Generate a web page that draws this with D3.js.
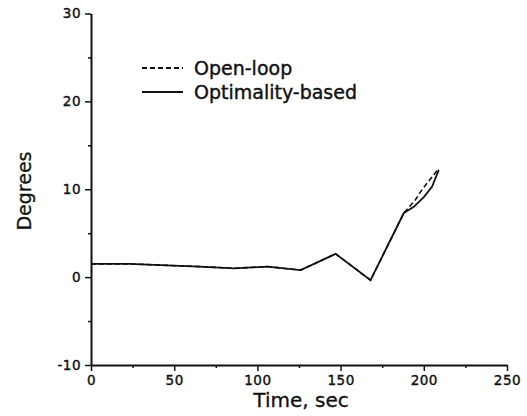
<html>
<meta charset="utf-8">
<script src="https://d3js.org/d3.v7.min.js"></script>
<style>
body{margin:0;background:#fff;}
text{font-family:"DejaVu Sans",sans-serif;fill:#111;}
</style>
<div class="chart"></div>
<script>
// time in sec, angle in degrees
const optTime = [0, 23, 65, 86, 106, 126, 147, 168, 188, 194, 200, 205, 209];
const optDeg  = [1.5, 1.5, 1.2, 1.0, 1.2, 0.8, 2.65, -0.35, 7.3, 8.0, 9.1, 10.3, 12.2];
const openTime = [0, 23, 65, 86, 106, 126, 147, 168, 188, 195, 198, 202, 205, 209];
const openDeg  = [1.5, 1.5, 1.2, 1.0, 1.2, 0.8, 2.65, -0.35, 7.3, 8.8, 9.7, 10.7, 11.4, 12.4];
const xTicks = [0, 50, 100, 150, 200, 250];
const xMinor = [25, 75, 125, 175, 225];
const yTicks = [-10, 0, 10, 20, 30];
const yMinor = [-5, 5, 15, 25];
const legendNames = ['Open-loop', 'Optimality-based'];

const width = 527, height = 416;
const margin = {top:13.5, left:91, bottom:51, right:20};

const x = d3.scaleLinear().domain([0, 250]).range([margin.left, 507]);
const y = d3.scaleLinear().domain([-10, 30]).range([365, margin.top]);

const svg = d3.select('.chart').append('svg')
  .attr('width', width).attr('height', height);

// axes
svg.append('g').attr('transform', `translate(0,${y(-10)})`)
  .call(d3.axisBottom(x).tickValues(xTicks).tickSize(6).tickSizeOuter(0).tickPadding(4)
    .tickFormat(d => String(d)));
svg.append('g').attr('transform', `translate(0,${y(-10)})`)
  .call(d3.axisBottom(x).tickValues(xMinor).tickSize(3).tickFormat(''))
  .select('.domain').remove();
svg.append('g').attr('transform', `translate(${x(0)},0)`)
  .call(d3.axisLeft(y).tickValues(yTicks).tickSize(6).tickSizeOuter(0).tickPadding(4)
    .tickFormat(d => String(d)));
svg.append('g').attr('transform', `translate(${x(0)},0)`)
  .call(d3.axisLeft(y).tickValues(yMinor).tickSize(3).tickFormat(''))
  .select('.domain').remove();

svg.selectAll('.domain').attr('stroke', '#111').attr('stroke-width', 2);
svg.selectAll('.tick line').attr('stroke', '#111').attr('stroke-width', 1.5);
svg.selectAll('.tick text')
  .attr('font-family', '"DejaVu Sans",sans-serif')
  .attr('font-size', 13.5).attr('fill', '#111')
  .attr('stroke', '#111').attr('stroke-width', 0.4)
  .attr('letter-spacing', 0.5);

// axis titles
svg.append('text')
  .attr('x', 301).attr('y', 407)
  .attr('text-anchor', 'middle')
  .attr('font-size', 20)
  .attr('stroke', '#111').attr('stroke-width', 0.3)
  .text('Time, sec');
svg.append('text')
  .attr('transform', 'translate(31,191) rotate(-90)')
  .attr('text-anchor', 'middle')
  .attr('font-size', 19)
  .attr('stroke', '#111').attr('stroke-width', 0.3)
  .text('Degrees');

// lines
const line = d3.line().x(d => x(d[0])).y(d => y(d[1]));
const openData = openTime.map((t, i) => [t, openDeg[i]]);
const optData = optTime.map((t, i) => [t, optDeg[i]]);

svg.append('path').datum(openData)
  .attr('d', line).attr('fill', 'none')
  .attr('stroke', '#111').attr('stroke-width', 1.6)
  .attr('stroke-dasharray', '5,3');
svg.append('path').datum(optData)
  .attr('d', line).attr('fill', 'none')
  .attr('stroke', '#111').attr('stroke-width', 1.8);

// legend
const legend = svg.append('g').attr('transform', 'translate(142,68)');
legend.selectAll('line')
  .data(legendNames).enter().append('line')
  .attr('x1', 0).attr('x2', 41)
  .attr('y1', (d, i) => i * 24).attr('y2', (d, i) => i * 24)
  .attr('stroke', '#111').attr('stroke-width', 1.8)
  .attr('stroke-dasharray', (d, i) => i === 0 ? '5,3' : null);
legend.selectAll('text')
  .data(legendNames).enter().append('text')
  .attr('x', 52).attr('y', (d, i) => i * 24 + 7)
  .attr('font-size', 19)
  .attr('stroke', '#111').attr('stroke-width', 0.4)
  .text(d => d);
</script>
</html>
